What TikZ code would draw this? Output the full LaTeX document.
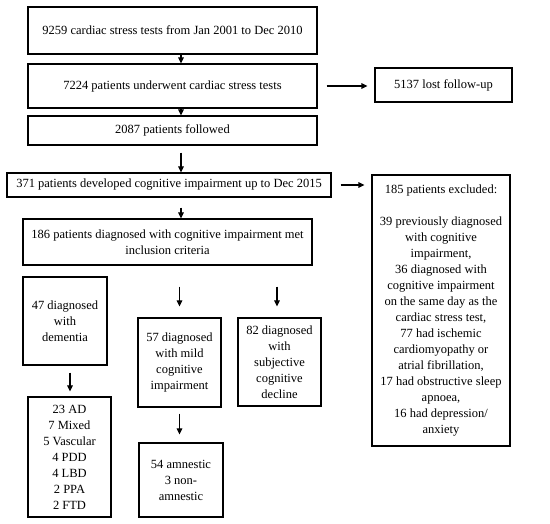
\documentclass[tikz,border=0pt]{standalone}
\usepackage{fontspec}
\setmainfont{Liberation Serif}
\usepackage{tikz}
\usetikzlibrary{arrows.meta,positioning}

\begin{document}
\begin{tikzpicture}[
  x=1pt, y=-1pt,
  font=\fontsize{12.5}{16}\selectfont,
  box/.style={draw, line width=1.1pt, align=center, inner sep=2pt},
  arr/.style={-{Triangle[length=6pt, width=5.5pt]}, line width=1.1pt}
]
\useasboundingbox (0,0) rectangle (550,524);

\node[box, minimum width=289, minimum height=47] (tests) at (172.5,30.5) {9259 cardiac stress tests from Jan 2001 to Dec 2010};
\node[box, minimum width=289, minimum height=44] (under) at (172.5,86) {7224 patients underwent cardiac stress tests};
\node[box, minimum width=137, minimum height=34] (lost) at (443.5,85) {5137 lost follow-up};
\node[box, minimum width=289, minimum height=29] (followed) at (172.5,130.5) {2087 patients followed};
\node[box, minimum width=324, minimum height=24] (devel) at (169,185) {371 patients developed cognitive impairment up to Dec 2015};
\node[box, minimum width=138, minimum height=271] (excl) at (441,310.5) {185 patients excluded:\\[16pt]
  39 previously diagnosed\\ with cognitive\\ impairment,\\ 36 diagnosed with\\ cognitive impairment\\ on the same day as the\\ cardiac stress test,\\ 77 had ischemic\\ cardiomyopathy or\\ atrial fibrillation,\\ 17 had obstructive sleep\\ apnoea,\\ 16 had depression/\\ anxiety};
\node[box, minimum width=289, minimum height=46] (incl) at (167.5,242) {186 patients diagnosed with cognitive impairment met\\ inclusion criteria};
\node[box, minimum width=84, minimum height=88] (dem) at (65,321) {47 diagnosed\\ with\\ dementia};
\node[box, minimum width=83, minimum height=89] (mci) at (179.5,362.5) {57 diagnosed\\ with mild\\ cognitive\\ impairment};
\node[box, minimum width=83, minimum height=88] (scd) at (279.5,362) {82 diagnosed\\ with\\ subjective\\ cognitive\\ decline};
\node[box, minimum width=83, minimum height=120] (sub) at (69.5,457) {23 AD\\ 7 Mixed\\ 5 Vascular\\ 4 PDD\\ 4 LBD\\ 2 PPA\\ 2 FTD};
\node[box, minimum width=84, minimum height=74] (amn) at (181,480) {54 amnestic\\ 3 non-\\ amnestic};

\draw[arr] ([xshift=8.5]tests.south) -- ([xshift=8.5]under.north);
\draw[arr, shorten <=9, shorten >=7] (under.east) -- (under.east -| lost.west);
\draw[arr] ([xshift=8.5]under.south) -- ([xshift=8.5]followed.north);
\draw[arr, shorten <=7] ([xshift=8.5]followed.south) -- ([xshift=8.5]followed.south |- devel.north);
\draw[arr, shorten <=9, shorten >=7] (devel.east) -- (devel.east -| excl.west);
\draw[arr, shorten <=10] ([xshift=12]devel.south) -- ([xshift=12]devel.south |- incl.north);
\draw[arr, shorten <=21, shorten >=11] (incl.south -| mci) -- (mci.north);
\draw[arr, shorten <=21, shorten >=11] (incl.south -| 277,0) -- (scd.north -| 277,0);
\draw[arr, shorten <=7, shorten >=5] ([xshift=5]dem.south) -- ([xshift=5]dem.south |- sub.north);
\draw[arr, shorten <=6, shorten >=8] (mci.south) -- (mci.south |- amn.north);

\end{tikzpicture}
\end{document}
